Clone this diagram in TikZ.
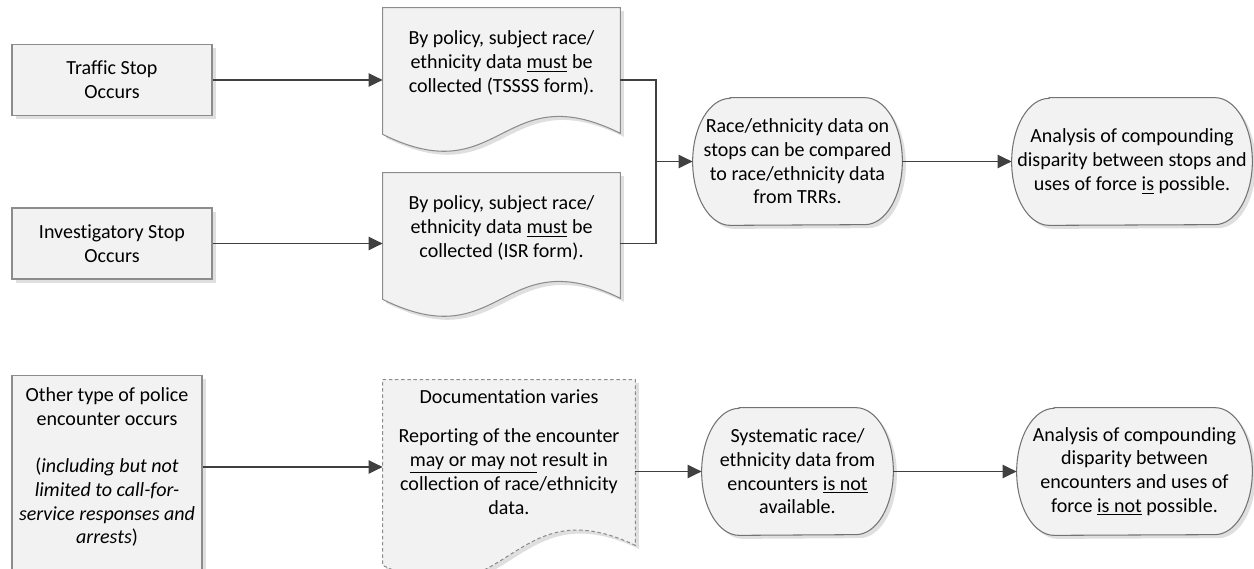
\documentclass[tikz,border=0pt]{standalone}
\usepackage{fontspec}
\setmainfont{Carlito}[Ligatures=NoCommon]
\usetikzlibrary{arrows.meta,calc,shadows,backgrounds}

% outline of the rounded outcome shapes, drawn round a named text node
\newcommand{\pillpath}[1]{%
  \draw[pill] ([xshift=0.75cm]#1.north west) -- ([xshift=-0.75cm]#1.north east)
    arc[start angle=90, end angle=-90, x radius=0.75cm, y radius=1.27cm]
    -- ([xshift=0.75cm]#1.south west)
    arc[start angle=270, end angle=90, x radius=0.75cm, y radius=1.27cm] -- cycle;}

\begin{document}
\begin{tikzpicture}[font=\fontsize{11.4}{13.5}\selectfont,
  shapebox/.style={draw=black!45, fill=black!5, line width=0.6pt,
    drop shadow={shadow xshift=2pt, shadow yshift=-2pt, opacity=0.25}},
  stepbox/.style={shapebox, minimum width=4cm, minimum height=1.42cm, inner sep=0pt, align=center},
  textbox/.style={inner sep=0pt, align=center},
  pill/.style={shapebox, draw=black!55},
  flowline/.style={draw=black!75, line width=1.1pt},
  flowarrow/.style={flowline, -{Triangle[length=8pt,width=7.5pt]}}]
\useasboundingbox (0,0) rectangle (25.08,-11.38);
\clip (0,0) rectangle (25.08,-11.38);

% where the encounter starts
\node[stepbox] (traffic) at (2.24,-1.60) {Traffic Stop\\Occurs};
\node[stepbox] (invest) at (2.24,-4.87) {Investigatory Stop\\Occurs};
\node[stepbox, minimum width=3.8cm, minimum height=4.3cm, anchor=north] (other) at (2.14,-7.50) {};
\node[textbox] (othertext) at (2.14,-9.34) {Other type of police\\encounter occurs\\[13.5pt](\textit{including but not}\\\textit{limited to call-for-}\\\textit{service responses and}\\\textit{arrests})};

% paperwork
\node[textbox, minimum width=4.74cm, minimum height=2.2cm] (tsform) at (10.03,-1.26) {By policy, subject race/\\ethnicity data \underline{must} be\\collected (TSSSS form).};
\node[textbox, minimum width=4.74cm, minimum height=2.2cm] (isrform) at (10.03,-4.56) {By policy, subject race/\\ethnicity data \underline{must} be\\collected (ISR form).};
\node[textbox, minimum width=5.04cm, minimum height=2.88cm] (docvaries) at (10.18,-9.04) {Documentation varies\\[9pt]Reporting of the encounter\\\underline{may or may not} result in\\collection of race/ethnicity\\data.};

% what can be analysed
\node[textbox, minimum width=4.18cm, minimum height=2.54cm] (stopdata) at (15.95,-3.23) {Race/ethnicity data on\\stops can be compared\\to race/ethnicity data\\from TRRs.};
\node[textbox, minimum width=4.8cm, minimum height=2.54cm] (stopcheck) at (22.64,-3.23) {Analysis of compounding\\disparity between stops and\\uses of force \underline{is} possible.};
\node[textbox, minimum width=3.82cm, minimum height=2.54cm] (encdata) at (15.95,-9.43) {Systematic race/\\ethnicity data from\\encounters \underline{is not}\\available.};
\node[textbox, minimum width=4.7cm, minimum height=2.54cm] (enccheck) at (22.69,-9.43) {Analysis of compounding\\disparity between\\encounters and uses of\\force \underline{is not} possible.};

\begin{pgfonlayer}{background}
\clip (0,0) rectangle (25.08,-11.38);
\draw[shapebox] (tsform.north west) -- (tsform.north east) -- ($(tsform.south east)+(0,-0.30)$)
  .. controls ($(tsform.south)+(0,0.88)$) and ($(tsform.south)+(0,-1.50)$) .. ($(tsform.south west)+(0,-0.32)$) -- cycle;
\draw[shapebox] (isrform.north west) -- (isrform.north east) -- ($(isrform.south east)+(0,-0.30)$)
  .. controls ($(isrform.south)+(0,0.88)$) and ($(isrform.south)+(0,-1.50)$) .. ($(isrform.south west)+(0,-0.32)$) -- cycle;
\draw[shapebox, dash pattern=on 2pt off 1.5pt] (docvaries.north west) -- (docvaries.north east) -- ($(docvaries.south east)+(0,-0.42)$)
  .. controls ($(docvaries.south)+(0,0.78)$) and ($(docvaries.south)+(0,-2.02)$) .. ($(docvaries.south west)+(0,-0.82)$) -- cycle;
\pillpath{stopdata}
\pillpath{stopcheck}
\pillpath{encdata}
\pillpath{enccheck}
\end{pgfonlayer}

% connectors
\draw[flowarrow] (traffic.east) -- (traffic -| tsform.west);
\draw[flowarrow] (invest.east) -- (invest -| isrform.west);
\path (stopdata.west) ++(-0.74,0) coordinate (join);
\draw[flowline] (traffic -| tsform.east) -| (join) |- (invest -| isrform.east);
\draw[flowarrow] (join) -- (stopdata.west);
\draw[flowarrow] (stopdata.east) -- (stopcheck.west);
\draw[flowarrow] (othertext -| other.east) -- (othertext -| docvaries.west);
\draw[flowarrow] (encdata -| docvaries.east) -- (encdata.west);
\draw[flowarrow] (encdata.east) -- (enccheck.west);
\end{tikzpicture}
\end{document}
